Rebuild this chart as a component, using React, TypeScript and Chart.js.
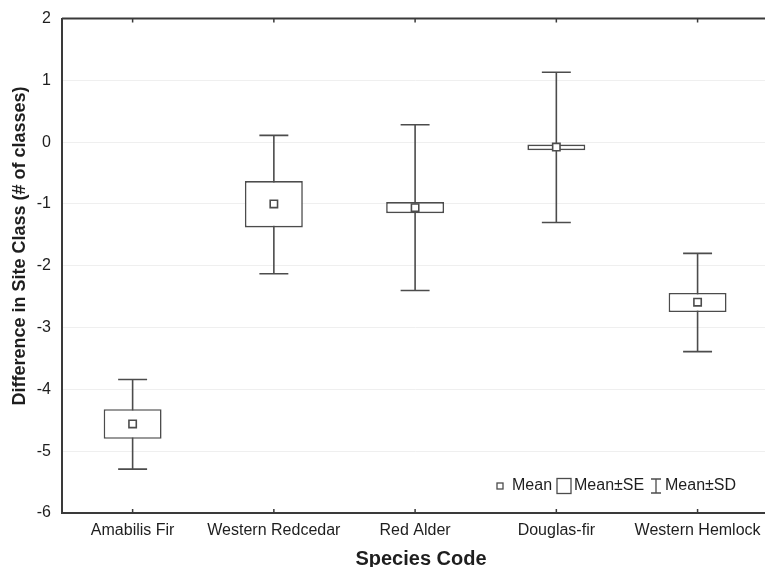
import React, { useEffect, useRef } from "react";
import { Chart, registerables } from "chart.js";

Chart.register(...registerables);

const categories = ["Amabilis Fir", "Western Redcedar", "Red Alder", "Douglas-fir", "Western Hemlock"];
const means = [-4.56, -1.0, -1.06, -0.08, -2.59];
const seLow = [-4.8, -1.38, -1.15, -0.13, -2.75];
const seHigh = [-4.32, -0.63, -0.97, -0.04, -2.44];
const sdLow = [-5.29, -2.13, -2.4, -1.3, -3.39];
const sdHigh = [-3.84, 0.11, 0.28, 1.13, -1.8];
const yTicks = [2, 1, 0, -1, -2, -3, -4, -5, -6];
const xTitle = "Species Code";
const yTitle = "Difference in Site Class (# of classes)";

const LINE = "#4c4c4c";
const AXIS = "#3a3a3a";
const TEXT = "#1e1e1e";
const FONT = "'Liberation Sans', Arial, sans-serif";

const whiskerPlugin = {
  id: "whiskers",
  beforeDatasetsDraw(chart: any) {
    const { ctx, scales } = chart;
    const x = scales.x;
    const y = scales.y;
    const catW = x.width / categories.length;
    const cap = catW * 0.205;
    ctx.save();
    ctx.strokeStyle = LINE;
    ctx.lineWidth = 1.6;
    categories.forEach((_, i) => {
      const cx = x.getPixelForValue(i);
      const yt = y.getPixelForValue(sdHigh[i]);
      const yb = y.getPixelForValue(sdLow[i]);
      ctx.beginPath();
      ctx.moveTo(cx, yt);
      ctx.lineTo(cx, yb);
      ctx.moveTo(cx - cap / 2, yt);
      ctx.lineTo(cx + cap / 2, yt);
      ctx.moveTo(cx - cap / 2, yb);
      ctx.lineTo(cx + cap / 2, yb);
      ctx.stroke();
    });
    ctx.restore();
  },
  afterDraw(chart: any) {
    const { ctx, scales, chartArea } = chart;
    const x = scales.x;
    ctx.save();
    // top border
    ctx.strokeStyle = AXIS;
    ctx.lineWidth = 2;
    ctx.beginPath();
    ctx.moveTo(chartArea.left, chartArea.top);
    ctx.lineTo(chartArea.right, chartArea.top);
    ctx.stroke();
    // inner ticks on top and bottom
    ctx.lineWidth = 1.5;
    categories.forEach((_, i) => {
      const cx = x.getPixelForValue(i);
      ctx.beginPath();
      ctx.moveTo(cx, chartArea.top);
      ctx.lineTo(cx, chartArea.top + 4);
      ctx.moveTo(cx, chartArea.bottom);
      ctx.lineTo(cx, chartArea.bottom - 4);
      ctx.stroke();
    });
    // axis titles
    ctx.fillStyle = TEXT;
    ctx.textAlign = "center";
    ctx.textBaseline = "middle";
    ctx.font = `bold 20px ${FONT}`;
    ctx.fillText(xTitle, 421, 559);
    ctx.save();
    ctx.translate(20, 246);
    ctx.rotate(-Math.PI / 2);
    ctx.font = `bold 18px ${FONT}`;
    ctx.fillText(yTitle, 0, 0);
    ctx.restore();
    // legend
    const ly = 486;
    ctx.font = `16px ${FONT}`;
    ctx.fillStyle = TEXT;
    ctx.textBaseline = "middle";
    ctx.textAlign = "left";
    ctx.strokeStyle = LINE;
    ctx.lineWidth = 1.3;
    ctx.strokeRect(497, ly - 3, 6, 6);
    ctx.fillText("Mean", 512, ly);
    ctx.strokeRect(557, ly - 7.5, 14, 15);
    ctx.fillText("Mean±SE", 574, ly);
    ctx.beginPath();
    ctx.moveTo(651, ly - 7);
    ctx.lineTo(661, ly - 7);
    ctx.moveTo(656, ly - 7);
    ctx.lineTo(656, ly + 7);
    ctx.moveTo(651, ly + 7);
    ctx.lineTo(661, ly + 7);
    ctx.stroke();
    ctx.fillText("Mean±SD", 665, ly);
    ctx.restore();
  },
};

export default function App() {
  const ref = useRef<HTMLCanvasElement>(null);
  useEffect(() => {
    document.body.style.overflow = "hidden";
    const chart = new Chart(ref.current as HTMLCanvasElement, {
      type: "bar",
      data: {
        labels: categories,
        datasets: [
          {
            type: "line",
            label: "Mean",
            data: means,
            showLine: false,
            pointStyle: "rect",
            pointRadius: 5.2,
            pointBackgroundColor: "#ffffff",
            pointBorderColor: LINE,
            pointBorderWidth: 1.6,
            order: 0,
          } as any,
          {
            type: "bar",
            label: "Mean±SE",
            data: categories.map((_, i) => [seLow[i], seHigh[i]]),
            backgroundColor: "#ffffff",
            borderColor: LINE,
            borderWidth: 1.6,
            borderSkipped: false,
            barPercentage: 0.41,
            categoryPercentage: 1,
            order: 1,
          } as any,
        ],
      },
      options: {
        animation: false,
        responsive: false,
        maintainAspectRatio: false,
        layout: { padding: { top: 18.5, right: 6, left: 0, bottom: 0 } },
        plugins: { legend: { display: false }, tooltip: { enabled: false } },
        scales: {
          x: {
            offset: true,
            grid: { display: false, drawTicks: false },
            border: { display: true, color: AXIS, width: 2 },
            ticks: { color: TEXT, font: { family: FONT, size: 16 }, padding: 8, maxRotation: 0, autoSkip: false },
            title: { display: false },
            afterFit: (s: any) => {
              s.height = 54;
              s.paddingLeft = 0;
              s.paddingRight = 0;
            },
          },
          y: {
            min: -6,
            max: 2,
            afterBuildTicks: (s: any) => {
              s.ticks = yTicks.map((v) => ({ value: v }));
            },
            grid: { color: "#efefef", lineWidth: 1, drawTicks: false },
            border: { display: true, color: AXIS, width: 2 },
            ticks: { color: TEXT, font: { family: FONT, size: 16 }, padding: 11 },
            title: { display: false },
            afterFit: (s: any) => {
              s.width = 62;
              s.paddingTop = 0;
              s.paddingBottom = 0;
            },
          },
        },
      },
      plugins: [whiskerPlugin],
    } as any);
    return () => chart.destroy();
  }, []);
  return (
    <div style={{ position: "fixed", left: 0, top: 0, width: 775, height: 567, background: "#fff" }}>
      <canvas ref={ref} width={775} height={567} style={{ width: 775, height: 567 }} />
    </div>
  );
}
